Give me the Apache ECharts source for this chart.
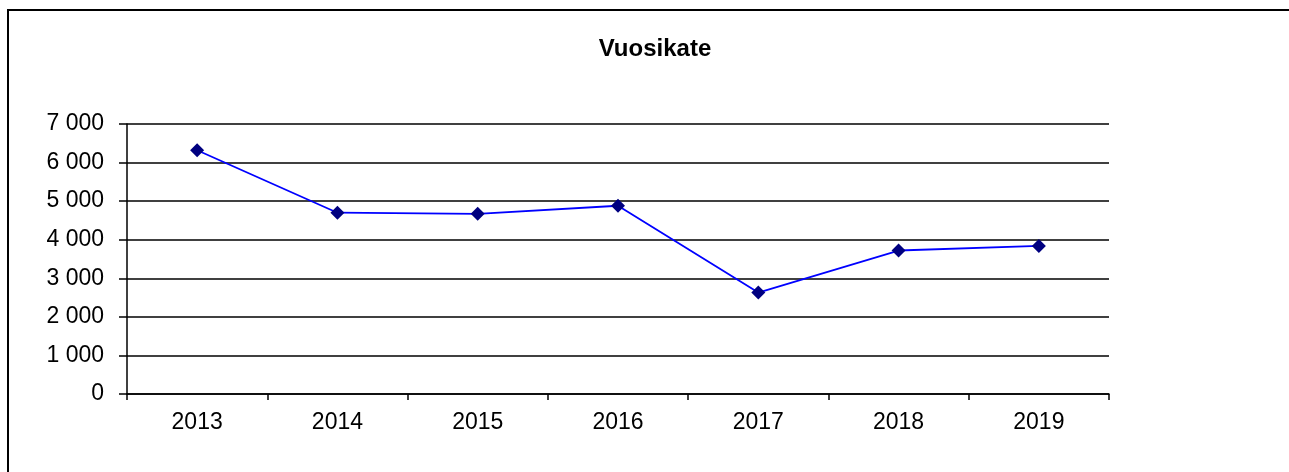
<!DOCTYPE html>
<html>
<head>
<meta charset="utf-8">
<script src="https://cdn.jsdelivr.net/npm/echarts@6/dist/echarts.min.js"></script>
<style>
  html, body { margin: 0; padding: 0; background: #fff; overflow: hidden; }
  #frame { position: absolute; left: 7px; top: 9px; width: 1400px; height: 600px; border: 2px solid #000; }
  #main { position: absolute; left: 0; top: 0; width: 1289px; height: 472px; }
</style>
</head>
<body>
<div id="frame"></div>
<div id="main"></div>
<script>
var years = ['2013', '2014', '2015', '2016', '2017', '2018', '2019'];
var vuosikate = [6320, 4700, 4670, 4880, 2630, 3720, 3840];
var yTicks = [0, 1000, 2000, 3000, 4000, 5000, 6000, 7000];

var chart = echarts.init(document.getElementById('main'));

// luvut muotoon "7 000"
function fmt(v) {
  return String(v).replace(/\B(?=(\d{3})+(?!\d))/g, ' ');
}

var option = {
  backgroundColor: 'transparent',
  animation: false,
  title: {
    text: 'Vuosikate',
    left: 650,
    top: 32,
    textAlign: 'center',
    textStyle: {
      fontFamily: 'Liberation Sans, Arial, sans-serif',
      fontSize: 24,
      fontWeight: 'bold',
      color: '#000'
    }
  },
  grid: {
    left: 127,
    right: 180,
    top: 124,
    bottom: 78
  },
  xAxis: {
    type: 'category',
    data: years,
    boundaryGap: true,
    axisLine: { lineStyle: { color: '#000', width: 1.5 } },
    axisTick: { show: true, length: 6, lineStyle: { color: '#000', width: 1.5 } },
    axisLabel: {
      margin: 17,
      fontFamily: 'Liberation Sans, Arial, sans-serif',
      fontSize: 23,
      color: '#000'
    },
    splitLine: { show: false }
  },
  yAxis: {
    type: 'value',
    min: yTicks[0],
    max: yTicks[yTicks.length - 1],
    interval: 1000,
    axisLine: { show: true, lineStyle: { color: '#000', width: 1.5 } },
    axisTick: { show: true, length: 8, lineStyle: { color: '#000', width: 1.5 } },
    axisLabel: {
      margin: 23,
      fontFamily: 'Liberation Sans, Arial, sans-serif',
      fontSize: 23,
      color: '#000',
      formatter: fmt
    },
    splitLine: { show: true, lineStyle: { color: '#000', width: 1.5 } }
  },
  series: [{
    name: 'Vuosikate',
    type: 'line',
    data: vuosikate,
    symbol: 'diamond',
    symbolSize: 14,
    lineStyle: { color: '#0000ff', width: 1.8 },
    itemStyle: { color: '#000080', borderWidth: 0 }
  }]
};

chart.setOption(option);
</script>
</body>
</html>
